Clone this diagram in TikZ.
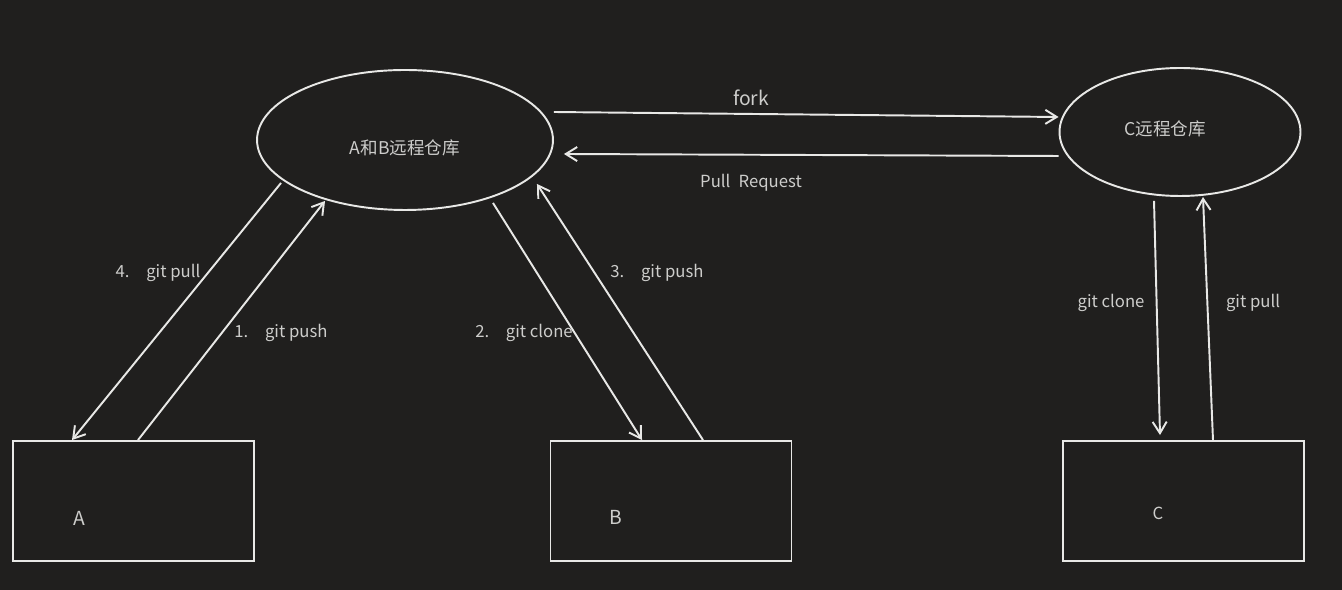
\documentclass[tikz,border=0pt]{standalone}
\usepackage{fontspec}
\setmainfont{Noto Sans CJK SC}
\usepackage{tikz}
\usetikzlibrary{arrows.meta,shapes,positioning}
\usepackage{xcolor}
\definecolor{gitbg}{RGB}{32,31,30}
\definecolor{gitline}{RGB}{232,232,230}
\definecolor{gittext}{RGB}{205,205,203}
\tikzstyle{arrow} = [line width=1.1pt,-{Straight Barb[length=6.5pt,width=8pt]},color=gitline]

\begin{document}
\begin{tikzpicture}[x=0.02cm, y=-0.02cm,
    repo/.style={ellipse, draw=gitline, line width=1.1pt, inner sep=0pt},
    local/.style={rectangle, draw=gitline, line width=1.1pt, minimum width=4.82cm, minimum height=2.4cm, inner sep=0pt},
    lbl/.style={text=gittext, font=\fontsize{9.5}{11}\selectfont}]

% Background
\fill[gitbg] (0,0) rectangle (1342,590);

% Remote repositories
\node[repo, minimum width=5.92cm, minimum height=2.8cm] (abrepo) at (405,140) {};
\node[repo, minimum width=4.82cm, minimum height=2.56cm] (crepo) at (1180,132) {};
\node[lbl, font=\fontsize{10}{12}\selectfont] (abname) at (405,148) {A和B远程仓库};
\node[lbl, font=\fontsize{10}{12}\selectfont] (cname) at (1165,129) {C远程仓库};

% Local repositories
\node[local] (boxa) at (133.5,501) {};
\node[local] (boxb) at (671,501) {};
\node[local] (boxc) at (1183.5,501) {};
\node[lbl, font=\fontsize{11}{13}\selectfont] (aname) at (79,518) {A};
\node[lbl, font=\fontsize{11}{13}\selectfont] (bname) at (616,517) {B};
\node[lbl] (cbname) at (1158,513) {C};

% fork and pull request
\draw[arrow] ([yshift=0.56cm]abrepo.east) -- ([yshift=0.3cm]crepo.west);
\draw[arrow] ([yshift=-0.48cm]crepo.west) -- ([xshift=0.2cm,yshift=-0.28cm]abrepo.east);
\node[lbl, font=\fontsize{11}{13}\selectfont] (forklbl) at (751,98) {fork};
\node[lbl] (prlbl) at (751,183) {Pull\hspace{0.5em}Request};

% A <-> remote
\draw[arrow] ([xshift=-2.48cm,yshift=0.56cm]abrepo.south) -- ([xshift=-1.23cm]boxa.north);
\draw[arrow] ([xshift=0.09cm]boxa.north) -- ([xshift=-1.6cm,yshift=0.2cm]abrepo.south);
\node[lbl] (pull4) at (158,273) {4.\hspace{1em}git pull};
\node[lbl] (push1) at (281,333) {1.\hspace{1em}git push};

% B <-> remote
\draw[arrow] ([xshift=1.76cm,yshift=0.16cm]abrepo.south) -- ([xshift=-0.58cm]boxb.north);
\draw[arrow] ([xshift=0.64cm]boxb.north) -- ([xshift=2.64cm,yshift=0.54cm]abrepo.south);
\node[lbl] (clone2) at (524,333) {2.\hspace{1em}git clone};
\node[lbl] (push3) at (657,273) {3.\hspace{1em}git push};

% C <-> remote
\draw[arrow] ([xshift=-0.52cm,yshift=-0.08cm]crepo.south) -- ([xshift=-0.47cm,yshift=0.1cm]boxc.north);
\draw[arrow] ([xshift=0.59cm]boxc.north) -- ([xshift=0.46cm]crepo.south);
\node[lbl] (cclone) at (1111,303) {git clone};
\node[lbl] (cpull) at (1253,303) {git pull};

\end{tikzpicture}
\end{document}
